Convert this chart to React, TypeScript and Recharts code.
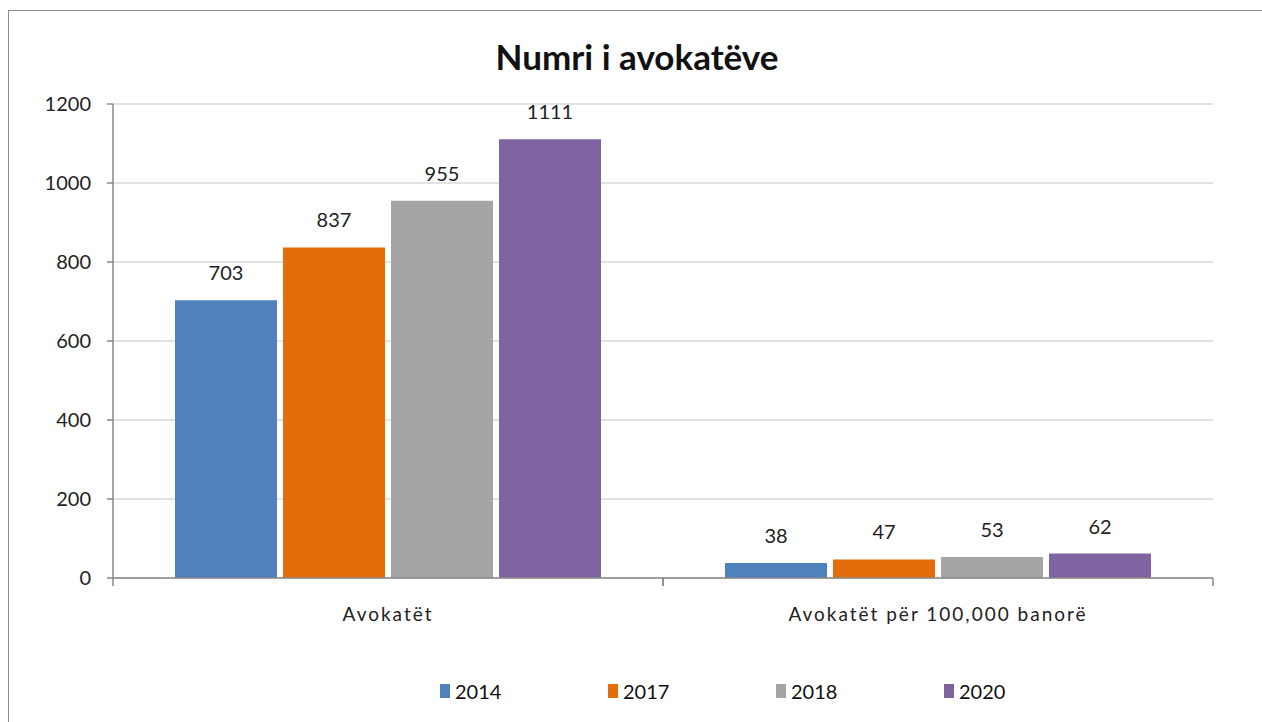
import { BarChart, Bar, XAxis, YAxis, CartesianGrid, LabelList } from 'recharts'

const categories = ['Avokatët', 'Avokatët për 100,000 banorë']
const years = ['2014', '2017', '2018', '2020']
const values2014 = [703, 38]
const values2017 = [837, 47]
const values2018 = [955, 53]
const values2020 = [1111, 62]
const yTicks = [0, 200, 400, 600, 800, 1000, 1200]

const colors = ['#4f81bd', '#e46c0a', '#a5a5a5', '#8064a2']
const seriesValues = [values2014, values2017, values2018, values2020]

const data = categories.map((name, i) => {
  const row: Record<string, string | number> = { name }
  years.forEach((yr, s) => {
    row['y' + yr] = seriesValues[s][i]
  })
  return row
})

const FONT = 'Lato, "Open Sans", sans-serif'
const HALF_BAND = 275

interface TickProps {
  x?: number
  y?: number
  payload?: { value: string }
}

function CategoryTick({ x = 0, y = 0, payload }: TickProps) {
  if (!payload) return null
  return (
    <g>
      <line x1={x - HALF_BAND} x2={x - HALF_BAND} y1={y} y2={y + 8} stroke="#888" strokeWidth={1.5} />
      <line x1={x + HALF_BAND} x2={x + HALF_BAND} y1={y} y2={y + 8} stroke="#888" strokeWidth={1.5} />
      <text x={x} y={y + 38} textAnchor="middle" dominantBaseline="middle" fontSize={19} fill="#222" letterSpacing={2}>
        {payload.value}
      </text>
    </g>
  )
}

export default function App() {
  return (
    <div style={{ position: 'absolute', left: 0, top: 0, width: 1262, height: 722, overflow: 'hidden', background: '#fff', fontFamily: FONT }}>
      <div style={{ position: 'absolute', left: 8, top: 10, width: 1270, height: 730, border: '1px solid #8c8c8c' }} />
      <div style={{ position: 'absolute', left: 0, width: 1274, top: 35, textAlign: 'center', fontSize: 35, fontWeight: 700, color: '#111' }}>
        Numri i avokatëve
      </div>
      <div style={{ position: 'absolute', left: 0, top: 0 }}>
        <BarChart
          width={1262}
          height={722}
          data={data}
          margin={{ top: 104, right: 49, bottom: 114, left: 53 }}
          barGap={6}
          barSize={102}
        >
          <CartesianGrid vertical={false} stroke="#d9d9d9" strokeWidth={1.5} />
          <YAxis
            width={60}
            domain={[0, 1200]}
            ticks={yTicks}
            interval={0}
            axisLine={{ stroke: '#888', strokeWidth: 1.5 }}
            tickLine={{ stroke: '#888', strokeWidth: 1.5 }}
            tickSize={6}
            tickMargin={16}
            tick={{ fontSize: 20, fill: '#222' }}
          />
          <XAxis
            dataKey="name"
            height={30}
            axisLine={{ stroke: '#888', strokeWidth: 1.5 }}
            tickLine={false}
            tickSize={0}
            tickMargin={0}
            interval={0}
            tick={(props: object) => <CategoryTick {...(props as TickProps)} />}
          />
          {years.map((yr, s) => (
            <Bar key={yr} dataKey={'y' + yr} name={yr} fill={colors[s]} isAnimationActive={false}>
              <LabelList dataKey={'y' + yr} position="top" offset={20} fontSize={20} fill="#222" />
            </Bar>
          ))}
        </BarChart>
      </div>
      {years.map((yr, s) => (
        <div key={yr} style={{ position: 'absolute', left: 440 + s * 168, top: 679, display: 'flex', alignItems: 'center', fontSize: 20, color: '#111' }}>
          <span style={{ display: 'inline-block', width: 10, height: 14, background: colors[s], marginRight: 5 }} />
          {yr}
        </div>
      ))}
    </div>
  )
}
